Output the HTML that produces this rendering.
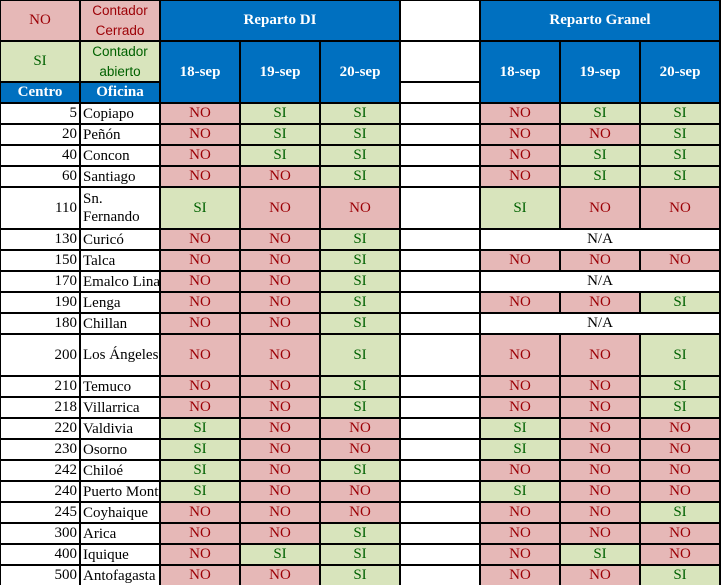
<!DOCTYPE html>
<html><head><meta charset="utf-8">
<style>
body{margin:0;background:#fff;}
#t{position:relative;width:721px;height:585px;background:#000;overflow:hidden;font-family:"Liberation Serif",serif;}
.c{position:absolute;box-sizing:border-box;display:flex;align-items:center;justify-content:center;font-size:15px;overflow:hidden;white-space:nowrap;}
.no{background:#E6B8B7;color:#9C0006;}
.si{background:#D8E4BC;color:#006100;}
.w{background:#fff;color:#000;}
.b{background:#0070C0;color:#fff;font-weight:bold;}
.sans{font-family:"Liberation Sans",sans-serif;font-size:13.5px;line-height:20px;text-align:center;}
</style></head><body>
<div id="t"></div>
<script>
const rows=[
["5","Copiapo",["NO","SI","SI"],["NO","SI","SI"],1],
["20","Peñón",["NO","SI","SI"],["NO","NO","SI"],1],
["40","Concon",["NO","SI","SI"],["NO","SI","SI"],1],
["60","Santiago",["NO","NO","SI"],["NO","SI","SI"],1],
["110","Sn.<br>Fernando",["SI","NO","NO"],["SI","NO","NO"],2],
["130","Curicó",["NO","NO","SI"],null,1],
["150","Talca",["NO","NO","SI"],["NO","NO","NO"],1],
["170","Emalco Linares",["NO","NO","SI"],null,1],
["190","Lenga",["NO","NO","SI"],["NO","NO","SI"],1],
["180","Chillan",["NO","NO","SI"],null,1],
["200","Los Ángeles",["NO","NO","SI"],["NO","NO","SI"],2],
["210","Temuco",["NO","NO","SI"],["NO","NO","SI"],1],
["218","Villarrica",["NO","NO","SI"],["NO","NO","SI"],1],
["220","Valdivia",["SI","NO","NO"],["SI","NO","NO"],1],
["230","Osorno",["SI","NO","NO"],["SI","NO","NO"],1],
["242","Chiloé",["SI","NO","SI"],["NO","NO","NO"],1],
["240","Puerto Montt",["SI","NO","NO"],["SI","NO","NO"],1],
["245","Coyhaique",["NO","NO","NO"],["NO","NO","SI"],1],
["300","Arica",["NO","NO","SI"],["NO","NO","NO"],1],
["400","Iquique",["NO","SI","SI"],["NO","SI","NO"],1],
["500","Antofagasta",["NO","NO","SI"],["NO","NO","SI"],1]
];
const dates=["18-sep","19-sep","20-sep"];
const T=document.getElementById('t');
function cell(col,span,y,h,cls,html,name,style){
  const d=document.createElement('div');
  d.className='c '+cls;
  d.style.left=(col*80+1)+'px';
  d.style.width=(span*80-2)+'px';
  d.style.top=(y+1)+'px';
  d.style.height=(h-2)+'px';
  if(style)d.style.cssText+=style;
  d.innerHTML=html;
  
  
  T.appendChild(d);
  return d;
}
// header
cell(0,1,0,41,'no','NO','legend-no');
cell(1,1,0,41,'no sans','Contador<br>Cerrado','legend-closed-label');
cell(0,1,41,41,'si','SI','legend-si');
cell(1,1,41,41,'si sans','Contador<br>abierto','legend-open-label');
cell(0,1,82,21,'b','Centro','centro-header');
cell(1,1,82,21,'b','Oficina','oficina-header');
cell(2,3,0,41,'b','Reparto DI','reparto-di-header');
cell(6,3,0,41,'b','Reparto Granel','reparto-granel-header');
cell(5,1,0,41,'w','','spacer-header');
cell(5,1,41,41,'w','','spacer-header');
cell(5,1,82,21,'w','','spacer-header');
dates.forEach((d,i)=>{
  cell(2+i,1,41,62,'b',d,'di-date-header');
  cell(6+i,1,41,62,'b',d,'granel-date-header');
});
let y=103;
rows.forEach(r=>{
  const h=21*r[4];
  cell(0,1,y,h,'w',r[0],'centro-cell','justify-content:flex-end;padding-right:2px;');
  cell(1,1,y,h,'w',r[1],'oficina-cell','justify-content:flex-start;padding-left:2px;line-height:18px;');
  r[2].forEach((v,i)=>cell(2+i,1,y,h,v.toLowerCase(),v,'di-status-cell'));
  cell(5,1,y,h,'w','','spacer-cell');
  if(r[3]) r[3].forEach((v,i)=>cell(6+i,1,y,h,v.toLowerCase(),v,'granel-status-cell'));
  else cell(6,3,y,h,'w','N/A','granel-na-cell');
  y+=h;
});
</script>
</body></html>
